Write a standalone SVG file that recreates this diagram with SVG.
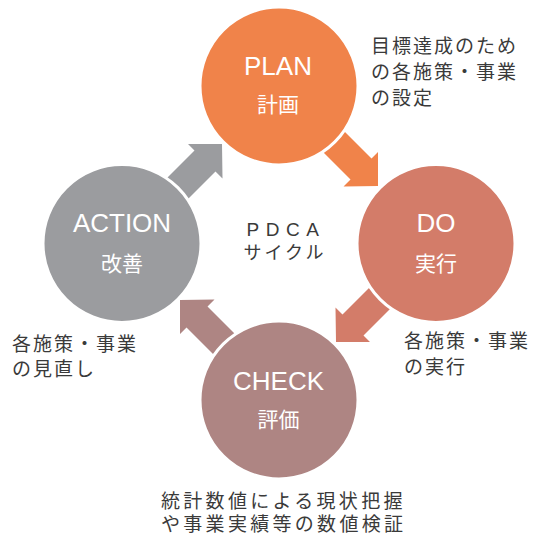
<svg xmlns="http://www.w3.org/2000/svg" width="535" height="535" viewBox="0 0 535 535">
<style>
.circ{stroke:#fff;stroke-width:3}
.en{font-family:"Liberation Sans",Arial,sans-serif;font-size:26px;fill:#fff;text-anchor:middle}
.jp{font-family:"Noto Sans CJK JP","Noto Sans",sans-serif;font-size:21px;fill:#fff;text-anchor:middle}
.note{font-family:"Noto Sans CJK JP","Noto Sans",sans-serif;font-size:19px;fill:#3a3a3a;letter-spacing:2px}
.center{font-family:"Noto Sans CJK JP","Noto Sans",sans-serif;font-size:18px;fill:#3a3a3a;text-anchor:middle}
</style>
<defs>
<path id="arr" d="M336.5,123.5 L371.5,158.5 L378,152 L378,186 L343.5,186.5 L350.5,179.5 L315.5,144.5 Z"/>
</defs>
<g id="connectors">
<use href="#arr" fill="#F0834A"/>
<use href="#arr" fill="#D37C69" transform="rotate(90 279 243)"/>
<use href="#arr" fill="#AE8583" transform="rotate(180 279 243)"/>
<use href="#arr" fill="#9B9C9F" transform="rotate(270 279 243)"/>
</g>
<g id="plan">
<circle class="circ" cx="279" cy="86" r="79" fill="#F0834A"/>
<text class="en" x="278" y="75">PLAN</text>
<text class="jp" x="278" y="112">計画</text>
</g>
<g id="do">
<circle class="circ" cx="436" cy="243.5" r="79" fill="#D37C69"/>
<text class="en" x="436" y="232">DO</text>
<text class="jp" x="436" y="271">実行</text>
</g>
<g id="check">
<circle class="circ" cx="279" cy="400" r="79" fill="#AE8583"/>
<text class="en" x="278.5" y="390">CHECK</text>
<text class="jp" x="278.5" y="427">評価</text>
</g>
<g id="action">
<circle class="circ" cx="122" cy="243.5" r="79" fill="#9B9C9F"/>
<text class="en" x="122" y="232">ACTION</text>
<text class="jp" x="122" y="271">改善</text>
</g>
<g id="pdca">
<text x="286" y="236" style="font-family:'Liberation Sans',Arial,sans-serif;font-size:19px;fill:#3a3a3a;text-anchor:middle;letter-spacing:6.5px">PDCA</text>
<text class="center" x="285" y="259" style="letter-spacing:3px">サイクル</text>
</g>
<g id="notes">
<text class="note" x="161" y="508" style="letter-spacing:3.3px">統計数値による現状把握</text>
<text class="note" x="161" y="531" style="letter-spacing:3.3px">や事業実績等の数値検証</text>
<text class="note" x="371" y="53">目標達成のため</text>
<text class="note" x="371" y="79">の各施策・事業</text>
<text class="note" x="371" y="105">の設定</text>
<text class="note" x="404" y="348">各施策・事業</text>
<text class="note" x="404" y="374">の実行</text>
<text class="note" x="12" y="351">各施策・事業</text>
<text class="note" x="12" y="376">の見直し</text>
</g>
</svg>
